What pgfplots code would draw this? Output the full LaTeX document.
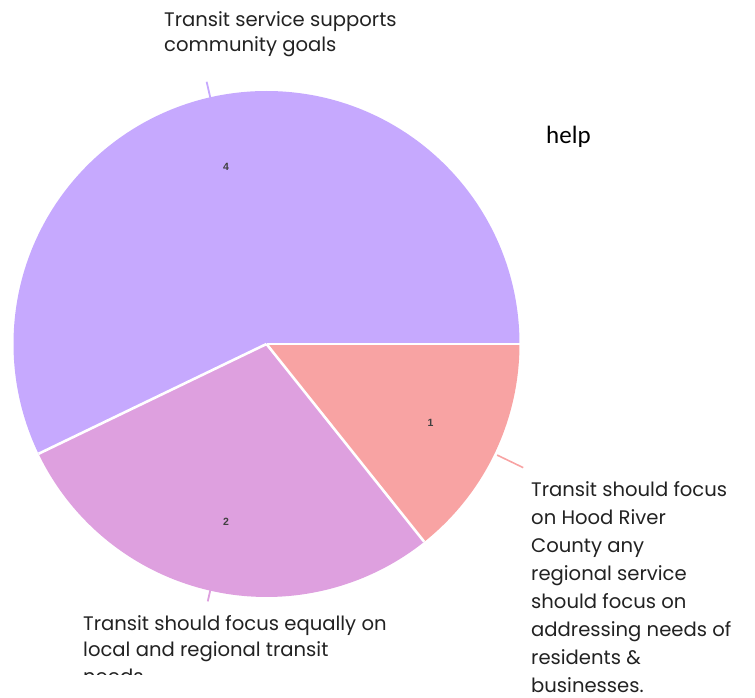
\documentclass[border=0pt]{standalone}
\usepackage{fontspec}
\setmainfont{Poppins}
\newfontfamily\arialf{Liberation Sans}
\newfontfamily\calibrif{Carlito}
\usepackage{pgfplots}
\pgfplotsset{compat=1.18}
\usepackage{pgfplotstable}
\definecolor{cPurple}{HTML}{C6A9FE}
\definecolor{cPink}{HTML}{DEA0DF}
\definecolor{cRed}{HTML}{F8A3A3}
\definecolor{txt}{HTML}{222222}
% slice values
\pgfplotstableread{
label value
A 4
B 2
C 1
}\slices
\pgfplotstablegetelem{0}{value}\of\slices \let\vA\pgfplotsretval
\pgfplotstablegetelem{1}{value}\of\slices \let\vB\pgfplotsretval
\pgfplotstablegetelem{2}{value}\of\slices \let\vC\pgfplotsretval
\pgfmathsetmacro\tot{\vA+\vB+\vC}
\pgfmathsetmacro\aA{\vA/\tot*360}
\pgfmathsetmacro\aB{\aA+\vB/\tot*360}
\pgfmathsetmacro\mA{\aA/2}
\pgfmathsetmacro\mB{(\aA+\aB)/2}
\pgfmathsetmacro\mC{(\aB+360)/2}
\def\cx{266.5}
\def\cy{344}
\def\R{253}
\begin{document}
\begin{tikzpicture}
\begin{axis}[
  x=1pt, y=1pt, scale only axis,
  xmin=0, xmax=755, ymin=0, ymax=698, y dir=reverse,
  hide axis, clip=false]
% slices
\fill[cPurple] (axis cs:\cx,\cy) -- ++(0:\R pt) arc[start angle=0, end angle=\aA, radius=\R pt] -- cycle;
\fill[cPink] (axis cs:\cx,\cy) -- ++(\aA:\R pt) arc[start angle=\aA, end angle=\aB, radius=\R pt] -- cycle;
\fill[cRed] (axis cs:\cx,\cy) -- ++(\aB:\R pt) arc[start angle=\aB, end angle=360, radius=\R pt] -- cycle;
% separators
\draw[white, line width=2.6pt] (axis cs:\cx,\cy) -- ++(0:\R pt);
\draw[white, line width=2.6pt] (axis cs:\cx,\cy) -- ++(\aA:\R pt);
\draw[white, line width=2.6pt] (axis cs:\cx,\cy) -- ++(\aB:\R pt);
% leader lines
\draw[cPurple, line width=1.8pt] (axis cs:\cx,\cy) ++(\mA:\R pt-8pt) -- ++(\mA:24pt);
\draw[cPink, line width=1.8pt] (axis cs:\cx,\cy) ++(\mB:\R pt-6pt) -- ++(\mB:17pt);
\draw[cRed, line width=1.6pt] (axis cs:\cx,\cy) ++(\mC:\R pt+3pt) -- ++(\mC:29pt);
% value labels
\node[font=\arialf\bfseries\fontsize{10.5}{11}\selectfont, text=black!75] at (axis cs:\cx,\cy) [shift={(\mA:182pt)}] {\vA};
\node[font=\arialf\bfseries\fontsize{10.5}{11}\selectfont, text=black!75] at (axis cs:\cx,\cy) [shift={(\mB:182pt)}] {\vB};
\node[font=\arialf\bfseries\fontsize{10.5}{11}\selectfont, text=black!75] at (axis cs:\cx,\cy) [shift={(\mC:182pt)}] {\vC};
% category labels (base = baseline of last line)
\node[anchor=base west, inner sep=0pt, align=left, text=txt,
  font=\fontsize{19.6}{25}\selectfont] at (axis cs:164,52)
  {Transit service supports\\community goals};
\node[anchor=base west, inner sep=0pt, align=left, text=txt,
  font=\fontsize{19.6}{27.9}\selectfont] at (axis cs:531,692)
  {Transit should focus\\on Hood River\\County any\\regional service\\should focus on\\addressing needs of\\residents \&\\businesses.};
\begin{scope}
\clip (axis cs:60,600) rectangle (axis cs:420,674.5);
\node[anchor=base west, inner sep=0pt, align=left, text=txt,
  font=\fontsize{19.6}{26.5}\selectfont] at (axis cs:83,683)
  {Transit should focus equally on\\local and regional transit\\needs};
\end{scope}
\node[anchor=base west, inner sep=0pt, text=black,
  font=\calibrif\fontsize{25}{30}\selectfont] at (axis cs:546,143) {help};
\end{axis}
\pgfresetboundingbox
\path (0,0) rectangle (755pt,698pt);
\end{tikzpicture}
\end{document}
